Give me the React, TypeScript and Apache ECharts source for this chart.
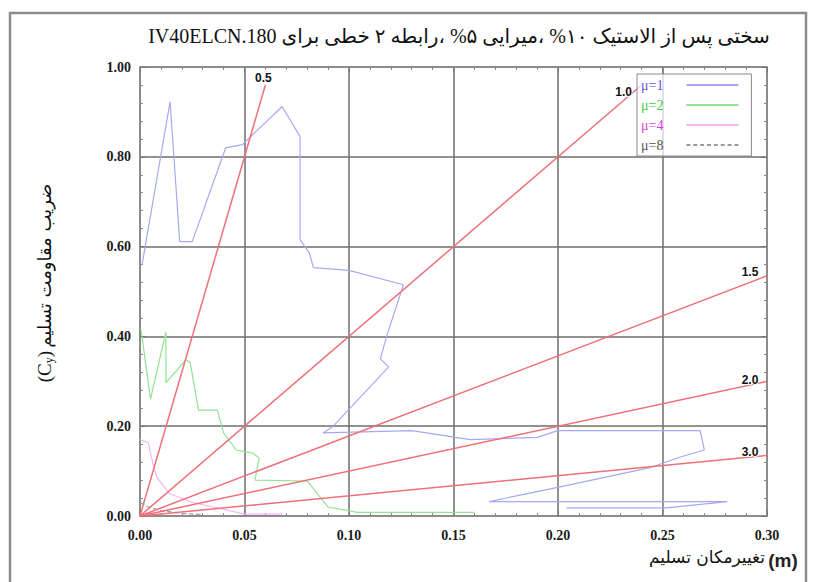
import React, { useEffect, useRef } from "react";
import * as echarts from "echarts";

// ---- data ----
const xTickLabels = ["0.00", "0.05", "0.10", "0.15", "0.20", "0.25", "0.30"];
const yTickLabels = ["0.00", "0.20", "0.40", "0.60", "0.80", "1.00"];

// constant-period reference lines (label, end x, end y)
const periodLabels = ["0.5", "1.0", "1.5", "2.0", "3.0"];
const periodEndX = [0.06, 0.24, 0.3, 0.3, 0.3];
const periodEndY = [0.96, 0.96, 0.535, 0.3, 0.135];

const muNames = ["μ=1", "μ=2", "μ=4", "μ=8"];

const mu1X = [0.001, 0.0144, 0.019, 0.025, 0.041, 0.049, 0.068, 0.0766, 0.0766, 0.081, 0.083, 0.1, 0.126, 0.118, 0.115, 0.119, 0.092, 0.0876, 0.13, 0.158, 0.19, 0.2, 0.268, 0.27, 0.259, 0.2435, 0.201, 0.167, 0.281, 0.252, 0.204];
const mu1Y = [0.56, 0.923, 0.611, 0.611, 0.82, 0.827, 0.912, 0.845, 0.615, 0.586, 0.553, 0.547, 0.515, 0.4, 0.35, 0.332, 0.198, 0.185, 0.19, 0.17, 0.175, 0.19, 0.19, 0.147, 0.132, 0.107, 0.065, 0.032, 0.032, 0.018, 0.018];

const mu2X = [0.0005, 0.005, 0.0124, 0.0124, 0.022, 0.024, 0.028, 0.037, 0.04, 0.046, 0.054, 0.057, 0.055, 0.08, 0.09, 0.104, 0.16];
const mu2Y = [0.415, 0.26, 0.41, 0.297, 0.348, 0.342, 0.236, 0.236, 0.185, 0.147, 0.14, 0.129, 0.08, 0.078, 0.02, 0.008, 0.008];

const mu4X = [0.0, 0.004, 0.006, 0.008, 0.014, 0.025, 0.04, 0.05, 0.068];
const mu4Y = [0.17, 0.163, 0.12, 0.087, 0.05, 0.03, 0.015, 0.004, 0.004];

const mu8X = [0.0, 0.004, 0.01, 0.02, 0.03];
const mu8Y = [0.03, 0.02, 0.012, 0.006, 0.003];

const titleText = "\u2067سختی پس از الاستیک ۱۰% ،میرایی ۵% ،رابطه ۲ خطی برای IV40ELCN.180\u2069";
const yNameText = "ضریب مقاومت تسلیم";
const xNameText = "تغییرمکان تسلیم";

// ---- styles ----
const muColors = ["#a8a8f0", "#94e294", "#f5b4f5", "#9a9a9a"];
const muTextColors = ["#5a5ae0", "#3ccf3c", "#e040e0", "#555555"];
const muDash = ["solid", "solid", "solid", "dashed"];
const labelOffsets = [[-2, -7], [-18, 7], [-17, -4], [-17, -1], [-17, -3]];

const solidIcon = "path://M0,0H52V2H0Z";
let dashed = "path://";
for (let x = 0; x < 52; x += 7) dashed += `M${x},0h4v2h-4Z `;
const muIcons = [solidIcon, solidIcon, solidIcon, dashed.trim()];

const zip = (xs: number[], ys: number[]) => xs.map((x, i) => [x, ys[i]]);

export default function App() {
  const ref = useRef<HTMLDivElement>(null);
  useEffect(() => {
    if (!ref.current) return;
    const chart = echarts.init(ref.current, undefined, { renderer: "svg" });
    const serif = "Liberation Serif";
    const axisLabel = (fmt: string[], step: number) => ({
      formatter: (v: number) => fmt[Math.round(v / step)] ?? "",
      fontFamily: serif,
      fontWeight: "bold" as const,
      fontSize: 14,
      color: "#1a1a1a",
    });
    const tickCommon = {
      axisLine: { show: true, onZero: false, lineStyle: { color: "#8a8a8a", width: 1.5 } },
      axisTick: { show: true, inside: true, length: 6, lineStyle: { color: "#777" } },
      minorTick: { show: true, splitNumber: 5, length: 3, lineStyle: { color: "#888" } },
    };
    const muData = [zip(mu1X, mu1Y), zip(mu2X, mu2Y), zip(mu4X, mu4Y), zip(mu8X, mu8Y)];

    const series: any[] = [];
    muNames.forEach((n, i) => {
      series.push({
        type: "line",
        name: n,
        data: muData[i],
        symbol: "none",
        lineStyle: { color: muColors[i], width: 1.2, type: muDash[i] },
        itemStyle: { color: muColors[i] },
        z: 2,
      });
    });
    periodLabels.forEach((p, i) => {
      series.push({
        type: "line",
        name: "T=" + p,
        data: [
          { value: [0, 0], symbolSize: 0 },
          {
            value: [periodEndX[i], periodEndY[i]],
            label: {
              show: true,
              formatter: p,
              position: labelOffsets[i],
              align: "center",
              verticalAlign: "middle",
              fontFamily: "Liberation Sans",
              fontWeight: "bold",
              fontSize: 12,
              color: "#111",
              textBorderColor: "rgba(255,255,255,0.85)",
              textBorderWidth: 2,
            },
          },
        ],
        symbol: "circle",
        symbolSize: 0.01,
        lineStyle: { color: "#ee7078", width: 1.5 },
        itemStyle: { color: "#ee7078" },
        z: 3,
      });
    });

    chart.setOption({
      animation: false,
      backgroundColor: "#ffffff",
      grid: { left: 140, right: 51, top: 67, bottom: 66 },
      xAxis: [
        {
          type: "value", min: 0, max: 0.3, interval: 0.05, position: "bottom",
          ...tickCommon,
          splitLine: { show: true, lineStyle: { color: "#6e6e6e", width: 1.5 } },
          axisLabel: { ...axisLabel(xTickLabels, 0.05), margin: 12 },
        },
        {
          type: "value", min: 0, max: 0.3, interval: 0.05, position: "top",
          ...tickCommon, splitLine: { show: false }, axisLabel: { show: false },
        },
      ],
      yAxis: [
        {
          type: "value", min: 0, max: 1, interval: 0.2, position: "left",
          ...tickCommon,
          splitLine: { show: true, lineStyle: { color: "#6e6e6e", width: 1.5 } },
          axisLabel: { ...axisLabel(yTickLabels, 0.2), margin: 9 },
        },
        {
          type: "value", min: 0, max: 1, interval: 0.2, position: "right",
          ...tickCommon, splitLine: { show: false }, axisLabel: { show: false },
        },
      ],
      legend: {
        data: muNames.map((n, i) => ({ name: n, icon: muIcons[i], textStyle: { color: muTextColors[i] } })),
        orient: "vertical",
        left: 637,
        top: 74,
        align: "right",
        itemWidth: 52,
        itemHeight: 2,
        itemGap: 6,
        padding: [4, 13, 4, 4],
        backgroundColor: "rgba(255,255,255,0.72)",
        borderColor: "#8a8a8a",
        borderWidth: 1,
        textStyle: { fontFamily: serif, fontSize: 14, lineHeight: 14, padding: [0, 18, 0, 0] },
        z: 10,
      },
      series,
      graphic: [
        {
          type: "rect", shape: { x: 10, y: 13, width: 796, height: 600 },
          style: { fill: "none", stroke: "#8c8c8c", lineWidth: 2.5 }, silent: true, z: 0,
        },
        {
          type: "text", x: 459, y: 36,
          style: {
            text: titleText, align: "center", verticalAlign: "middle",
            font: "20px 'Liberation Serif', 'DejaVu Sans', serif", fill: "#111",
          },
        },
        {
          type: "text", x: 44, y: 283, rotation: Math.PI / 2,
          style: {
            text: "{a|(C}{b|y}{a|)} {c|" + yNameText + "}",
            align: "center", verticalAlign: "middle",
            rich: {
              a: { fontFamily: serif, fontSize: 19, fill: "#111", color: "#111" },
              b: { fontFamily: serif, fontSize: 12, fill: "#111", color: "#111", verticalAlign: "bottom", padding: [9, 0, 0, 0] },
              c: { fontFamily: "DejaVu Sans", fontSize: 18, fill: "#111", color: "#111" },
            },
          },
        },
        {
          type: "rect", shape: { x: 648, y: 542, width: 116, height: 32 },
          style: { fill: "#ffffff" }, silent: true, z: 5,
        },
        {
          type: "text", x: 707, y: 557, z: 6,
          style: {
            text: xNameText, align: "center", verticalAlign: "middle",
            font: "17px 'DejaVu Sans', serif", fill: "#111",
          },
        },
        {
          type: "text", x: 783, y: 560, z: 6,
          style: {
            text: "(m)", align: "center", verticalAlign: "middle",
            font: "bold 19px 'Liberation Sans', Arial, sans-serif", fill: "#222",
          },
        },
      ],
    });
    return () => chart.dispose();
  }, []);
  return (
    <div
      ref={ref}
      style={{ position: "fixed", left: 0, top: 0, width: 818, height: 582 }}
    />
  );
}
